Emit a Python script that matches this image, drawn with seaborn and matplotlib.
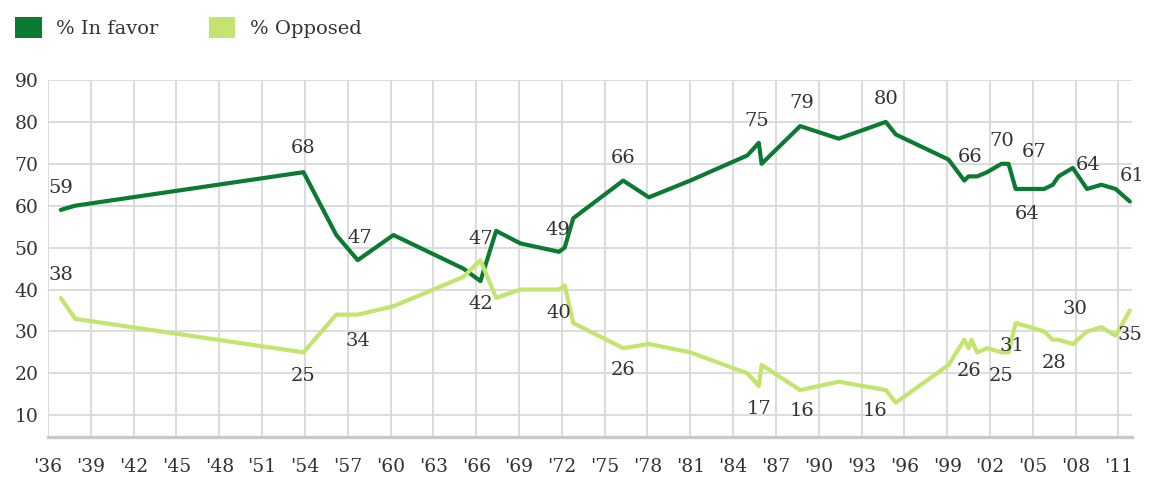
import matplotlib
matplotlib.use("Agg")
import matplotlib.pyplot as plt
from matplotlib.patches import Patch
import seaborn as sns
import pandas as pd

# ---- data ----
years = [1936.9, 1937.9, 1953.9, 1956.2, 1957.7, 1960.2, 1965.1, 1966.3, 1967.4,
         1969.1, 1971.8, 1972.2, 1972.8, 1976.3, 1978.1, 1981.0, 1985.0, 1985.8,
         1986.0, 1988.7, 1991.4, 1994.7, 1995.4, 1999.1, 2000.2, 2000.5, 2000.7,
         2001.1, 2001.8, 2002.8, 2003.3, 2003.8, 2004.8, 2005.8, 2006.4, 2006.8,
         2007.8, 2008.8, 2009.8, 2010.8, 2011.8]
in_favor = [59, 60, 68, 53, 47, 53, 45, 42, 54,
            51, 49, 50, 57, 66, 62, 66, 72, 75,
            70, 79, 76, 80, 77, 71, 66, 67, 67,
            67, 68, 70, 70, 64, 64, 64, 65, 67,
            69, 64, 65, 64, 61]
opposed = [38, 33, 25, 34, 34, 36, 43, 47, 38,
           40, 40, 41, 32, 26, 27, 25, 20, 17,
           22, 16, 18, 16, 13, 22, 28, 26, 28,
           25, 26, 25, 25, 32, 31, 30, 28, 28,
           27, 30, 31, 29, 35]
series_names = ["% In favor", "% Opposed"]
x_ticks = list(range(1936, 2012, 3))
x_tick_labels = ["'" + f"{y % 100:02d}" for y in x_ticks]
y_ticks = [10, 20, 30, 40, 50, 60, 70, 80, 90]

# labelled points (point index in each series)
fav_labels = [0, 2, 4, 7, 10, 13, 17, 19, 21, 24, 29, 32, 35, 37, 40]
opp_labels = [0, 2, 4, 7, 10, 13, 17, 19, 21, 25, 29, 32, 35, 37, 40]

# ---- styling / layout ----
colors = {"% In favor": "#0d7a34", "% Opposed": "#c3e46e"}
fav_offsets = [(0, 22), (0, 24), (2, 22), (0, -23), (-1, 22), (0, 23), (-2, 22),
               (2, 23), (0, 23), (6, 24), (0, 23), (-3, -25), (-24, 24), (1, 24), (2, 26)]
opp_offsets = [(0, 23), (0, -24), (0, -26), (0, 21), (0, -23), (0, -22), (0, -23),
               (2, -21), (-11, -21), (0, -23), (0, -24), (-18, -19), (-4, -23), (-12, 22), (0, -25)]

df = pd.DataFrame({
    "year": years * 2,
    "value": in_favor + opposed,
    "series": [series_names[0]] * len(years) + [series_names[1]] * len(years),
})

sns.set_theme(style="white")
plt.rcParams["font.family"] = ["DejaVu Serif"]

fig = plt.figure(figsize=(11.5, 4.9), dpi=100)
ax = fig.add_axes([48 / 1150, 1 - 437 / 490, (1132 - 48) / 1150, (437 - 80) / 490])

sns.lineplot(data=df, x="year", y="value", hue="series", palette=colors,
             linewidth=3.0, legend=False, ax=ax, sort=False, zorder=3)

ax.set_xlim(1936, 2011.95)
ax.set_ylim(4.8, 90)
ax.set_xticks(x_ticks)
ax.set_xticklabels(x_tick_labels)
ax.set_yticks(y_ticks)
ax.set_xlabel("")
ax.set_ylabel("")
ax.grid(True, color="#d9d9d9", linewidth=1.3, zorder=0)
ax.set_axisbelow(True)
for s in ["top", "right", "left"]:
    ax.spines[s].set_visible(False)
ax.spines["bottom"].set_color("#c8c8c8")
ax.spines["bottom"].set_linewidth(2.4)
ax.tick_params(axis="x", length=0, pad=15, labelsize=13.5, labelcolor="#333333")
ax.tick_params(axis="y", length=0, pad=7, labelsize=13.5, labelcolor="#333333")

for idx, (dx, dy) in zip(fav_labels, fav_offsets):
    ax.annotate(str(in_favor[idx]), (years[idx], in_favor[idx]), xytext=(dx, dy),
                textcoords="offset pixels", ha="center", va="center",
                fontsize=14, color="#333333", zorder=4)
for idx, (dx, dy) in zip(opp_labels, opp_offsets):
    ax.annotate(str(opposed[idx]), (years[idx], opposed[idx]), xytext=(dx, dy),
                textcoords="offset pixels", ha="center", va="center",
                fontsize=14, color="#333333", zorder=4)

handles = [Patch(facecolor=colors[n], edgecolor="none", label=n) for n in series_names]
fig.legend(handles=handles, loc="upper left", bbox_to_anchor=(-0.001, 1.0),
           ncol=2, frameon=False, fontsize=14, handlelength=1.35, handleheight=1.3,
           handletextpad=0.75, columnspacing=2.6, borderpad=0.35, labelcolor="#333333")

fig.savefig("out.png", dpi=100)
